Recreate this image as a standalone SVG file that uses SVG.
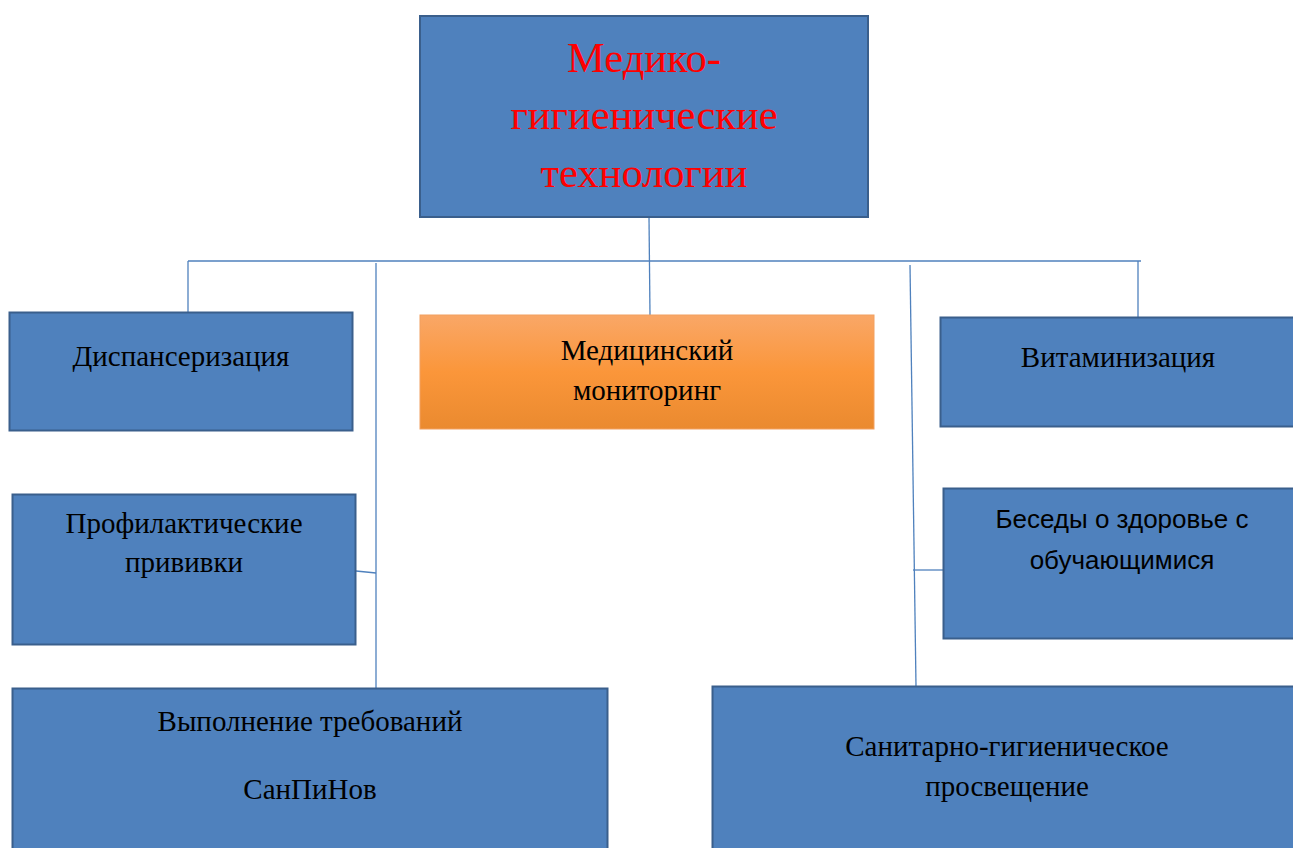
<svg xmlns="http://www.w3.org/2000/svg" width="1293" height="848" viewBox="0 0 1293 848">
<defs>
<linearGradient id="og" x1="0" y1="0" x2="0" y2="1">
<stop offset="0" stop-color="#F9A767"/>
<stop offset="0.5" stop-color="#FB963A"/>
<stop offset="1" stop-color="#EA8A2F"/>
</linearGradient>
</defs>
<style>
.box{fill:#4F81BD;stroke:#3A5F8C;stroke-width:2}
.t{font-family:"Liberation Serif","Times New Roman",serif;font-size:29px;fill:#000;text-anchor:middle}
.s{font-family:"Liberation Sans",Arial,sans-serif;font-size:26px;fill:#000;text-anchor:middle}
.big{font-family:"Liberation Serif","Times New Roman",serif;font-size:42.5px;fill:#FF0000;text-anchor:middle}
.ln{stroke:#4F81BD;stroke-width:1.3;fill:none}
</style>
<rect width="1293" height="848" fill="#fff"/>
<g id="connectors">
<line class="ln" x1="649" y1="217" x2="650" y2="315"/>
<line class="ln" x1="188" y1="261" x2="1141" y2="261"/>
<line class="ln" x1="188" y1="261" x2="188" y2="312"/>
<line class="ln" x1="1138" y1="261" x2="1138" y2="317"/>
<line class="ln" x1="376" y1="263" x2="376" y2="688"/>
<line class="ln" x1="910" y1="265" x2="916" y2="686"/>
<line class="ln" x1="356" y1="571" x2="376" y2="573"/>
<line class="ln" x1="913" y1="570" x2="943" y2="570"/>
</g>
<g id="root">
<rect class="box" x="420" y="16" width="448" height="201"/>
<text class="big" x="644" y="72">Медико-</text>
<text class="big" x="644" y="129">гигиенические</text>
<text class="big" x="644" y="187">технологии</text>
</g>
<g id="dispanserizatsiya">
<rect class="box" x="9.5" y="312.5" width="343" height="118"/>
<text class="t" x="181" y="366">Диспансеризация</text>
</g>
<g id="monitoring">
<rect x="420" y="315" width="454" height="114" fill="url(#og)" stroke="#F2A060" stroke-width="1"/>
<text class="t" x="647" y="360">Медицинский</text>
<text class="t" x="647" y="400">мониторинг</text>
</g>
<g id="vitaminizatsiya">
<rect class="box" x="940.5" y="317.5" width="360" height="109"/>
<text class="t" x="1118" y="367">Витаминизация</text>
</g>
<g id="privivki">
<rect class="box" x="12.5" y="494.5" width="343" height="150"/>
<text class="t" x="184" y="533">Профилактические</text>
<text class="t" x="184" y="572">прививки</text>
</g>
<g id="besedy">
<rect class="box" x="943.5" y="488.5" width="360" height="150"/>
<text class="s" x="1122" y="528">Беседы о здоровье с</text>
<text class="s" x="1122" y="569">обучающимися</text>
</g>
<g id="sanpin">
<rect class="box" x="12.5" y="688.5" width="595" height="170"/>
<text class="t" x="310" y="731">Выполнение требований</text>
<text class="t" x="310" y="799">СанПиНов</text>
</g>
<g id="prosveshchenie">
<rect class="box" x="712.5" y="686.5" width="590" height="170"/>
<text class="t" x="1007" y="756">Санитарно-гигиеническое</text>
<text class="t" x="1007" y="796">просвещение</text>
</g>
</svg>
